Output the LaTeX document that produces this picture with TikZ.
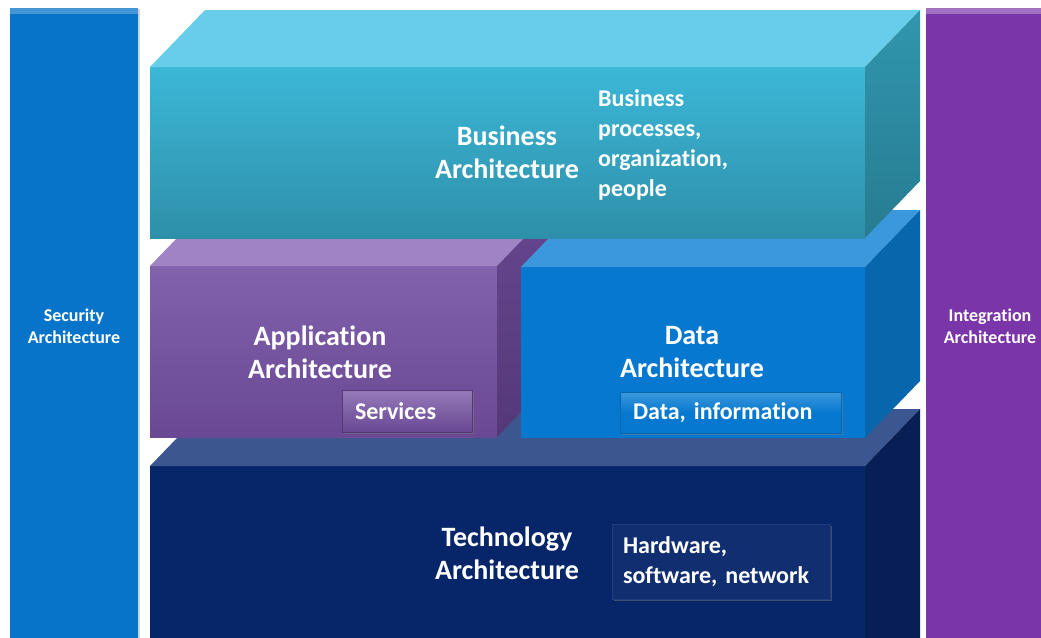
\documentclass[tikz,border=0pt]{standalone}
\usepackage{fontspec}
\setmainfont{Carlito}[Ligatures={NoCommon}]
\usetikzlibrary{calc,shadows}
\frenchspacing

% palette
\definecolor{secBlue}{HTML}{0874C9}
\definecolor{intPurple}{HTML}{7A36A8}
\definecolor{bizTop}{HTML}{67CDE9}
\definecolor{bizFrontT}{HTML}{3CB7D7}
\definecolor{bizFrontB}{HTML}{2E8FA9}
\definecolor{bizSideT}{HTML}{3096AE}
\definecolor{bizSideB}{HTML}{277C91}
\definecolor{appTop}{HTML}{9F83C4}
\definecolor{appFrontT}{HTML}{8262AD}
\definecolor{appFrontB}{HTML}{6A4893}
\definecolor{appSideT}{HTML}{664690}
\definecolor{appSideB}{HTML}{553878}
\definecolor{dataTop}{HTML}{3C98DD}
\definecolor{dataFront}{HTML}{0778CF}
\definecolor{dataSide}{HTML}{0867AC}
\definecolor{techTop}{HTML}{3C5690}
\definecolor{techFront}{HTML}{07266A}
\definecolor{techSide}{HTML}{081F55}

% top and right faces of a block whose front face is node #1
\newcommand\blockfaces[4]{%
  \fill[#2] (#1.north west) -- (#1.north east)
     -- ([shift={(55,-57)}]#1.north east) -- ([shift={(55,-57)}]#1.north west) -- cycle;
  \shade[top color=#3, bottom color=#4] (#1.north east)
     -- ([shift={(55,-57)}]#1.north east) -- ([shift={(55,-57)}]#1.south east)
     -- (#1.south east) -- cycle;
}

\begin{document}
\begin{tikzpicture}[x=1pt,y=-1pt,
  front/.style={inner sep=0pt, outer sep=0pt, text=white, align=center,
    font=\fontsize{28}{33}\selectfont\bfseries},
  heading/.style={inner sep=0pt, text=white, align=center,
    font=\fontsize{28}{33}\selectfont\bfseries},
  body/.style={inner sep=0pt, text=white, align=left,
    font=\fontsize{24}{30}\selectfont\bfseries},
  tag/.style={inner ysep=0pt, outer sep=0pt, text=white, align=left,
    font=\fontsize{24}{30}\selectfont\bfseries, line width=0.8pt,
    drop shadow={opacity=0.45, shadow xshift=1.5pt, shadow yshift=-2pt}},
  bar/.style={inner sep=0pt, outer sep=0pt, text=white, align=center,
    font=\fontsize{18}{22}\selectfont\bfseries, minimum width=128pt,
    minimum height=636pt,
    drop shadow={opacity=0.35, shadow xshift=2pt, shadow yshift=-1pt}}]

\useasboundingbox (0,0) rectangle (1041,637);
\clip (0,0) rectangle (1041,637);

% side pillars
\node[bar, fill=secBlue] (sec) at (74,326) {Security\\Architecture};
\fill[white, opacity=0.25] (sec.north west) rectangle ([shift={(0,6)}]sec.north east);
\node[bar, fill=intPurple] (int) at (990,326) {Integration\\Architecture};
\fill[white, opacity=0.3] (int.north west) rectangle ([shift={(0,6)}]int.north east);

% technology layer
\node[front, minimum width=715pt, minimum height=234pt, fill=techFront] (tech) at (507.5,583) {};
\blockfaces{tech}{techTop}{techSide}{techSide}
\node[heading] (techT) at (507,553) {Technology\\Architecture};
\node[tag, fill=techFront!96!white, draw=techTop!45!techFront, minimum width=218pt,
  minimum height=75pt, text width=196pt, inner xsep=11pt] (hw) at (721,561.5)
  {Hardware,\\software, network};

% application layer
\node[front, minimum width=347pt, minimum height=171pt,
  top color=appFrontT, bottom color=appFrontB] (app) at (323.5,351.5) {};
\blockfaces{app}{appTop}{appSideT}{appSideB}
\node[heading] (appT) at (320,352) {Application\\Architecture};
\node[tag, top color=appFrontT!85!white, bottom color=appFrontB, draw=appSideB,
  minimum width=130pt, minimum height=42pt, text width=104pt, inner xsep=13pt]
  (svc) at (407,411) {Services};

% data layer
\node[front, minimum width=344pt, minimum height=171pt, fill=dataFront] (data) at (693,352.5) {};
\blockfaces{data}{dataTop}{dataSide}{dataSide}
\node[heading] (dataT) at (692,352) {Data\\Architecture};
\node[tag, top color=dataTop, bottom color=dataFront, middle color=dataFront,
  draw=dataSide, minimum width=221pt, minimum height=41pt, text width=195pt,
  inner xsep=13pt] (dinfo) at (730.5,412.5) {Data, information};

% business layer
\node[front, minimum width=715pt, minimum height=171pt,
  top color=bizFrontT, bottom color=bizFrontB] (biz) at (507.5,152.5) {};
\blockfaces{biz}{bizTop}{bizSideT}{bizSideB}
\node[heading] (bizT) at (507,152) {Business\\Architecture};
\node[body, anchor=west] (bizD) at (598,145) {Business\\processes,\\organization,\\people};

\end{tikzpicture}
\end{document}
